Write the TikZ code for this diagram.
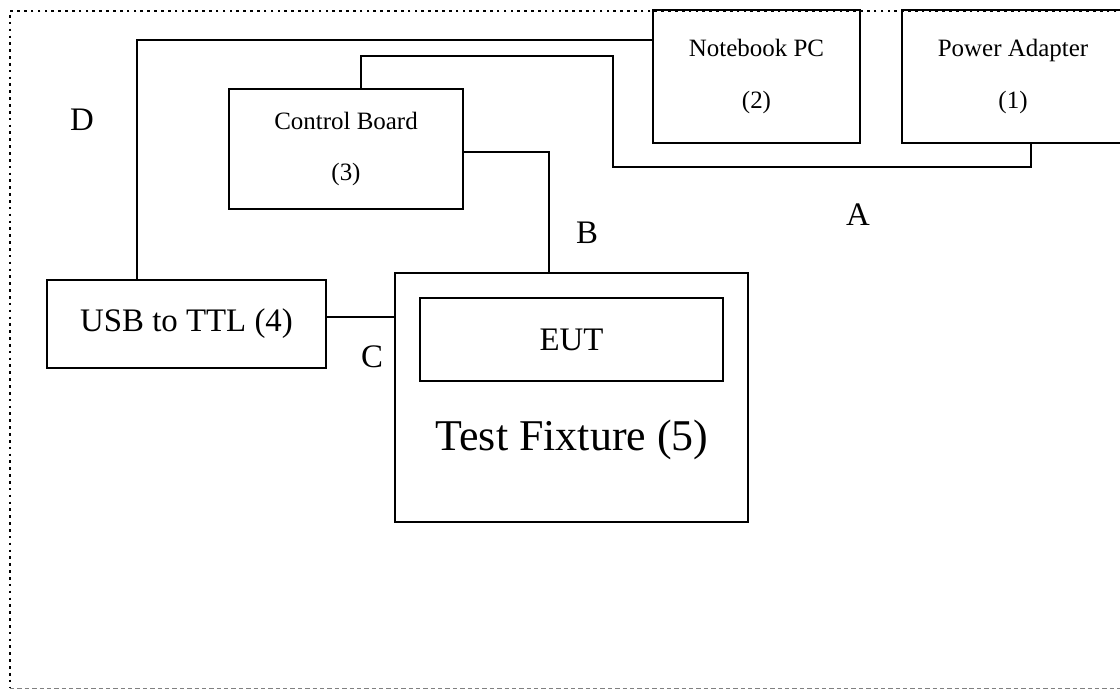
\documentclass[tikz,border=0pt]{standalone}
\usepackage{fontspec}
\setmainfont{Liberation Serif}
\usepackage{tikz}
\usetikzlibrary{positioning,calc}

\begin{document}
\begin{tikzpicture}[every node/.style={font=\fontsize{14.2pt}{17pt}\selectfont},
                    unit/.style={draw, line width=0.9pt, inner sep=0pt, align=center},
                    wire/.style={line width=0.9pt},
                    letter/.style={font=\fontsize{18.7pt}{22pt}\selectfont},
                    dotframe/.style={line width=1.5pt, dash pattern=on 1.5pt off 2.4pt},
                    dashframe/.style={line width=0.6pt, gray, dash pattern=on 2.5pt off 1.7pt}]
    \useasboundingbox (0,0) rectangle (22.4,13.8);
    \clip (0,0) rectangle (22.4,13.8);

    \draw[dotframe] (22.6,13.58) -- (0.2,13.58) -- (0.2,0.03);
    \draw[dashframe] (0.2,0.03) -- (22.6,0.03);

    \node (nb) [unit, minimum width=4.14cm, minimum height=2.66cm] at (15.13,12.27) {Notebook PC\\[12.5pt](2)};
    \node (pa) [unit, minimum width=4.44cm, minimum height=2.66cm] at (20.26,12.27) {Power Adapter\\[12.5pt](1)};
    \node (cb) [unit, minimum width=4.68cm, minimum height=2.4cm] at (6.92,10.82) {Control Board\\[12.5pt](3)};
    \node (usb) [unit, minimum width=5.58cm, minimum height=1.76cm, letter] at (3.73,7.32) {USB to TTL (4)};
    \node (fix) [unit, minimum width=7.06cm, minimum height=4.98cm] at (11.43,5.85) {};
    \node (eut) [unit, minimum width=6.06cm, minimum height=1.66cm, letter] at (11.43,7.01) {EUT};
    \node (fixlabel) [font=\fontsize{25pt}{30pt}\selectfont] at (11.44,5.0) {Test Fixture (5)};

    \draw[wire] ([yshift=0.73cm]nb.west) -| ([xshift=-0.99cm]usb.north);
    \draw[wire] ([xshift=0.3cm]cb.north) |- (12.26,12.68) -- (12.26,10.46) -| ([xshift=0.36cm]pa.south);
    \draw[wire] ([yshift=-0.06cm]cb.east) -| ([xshift=-0.45cm]fix.north);
    \draw[wire] ([yshift=0.14cm]usb.east) -- ([yshift=0.14cm]usb.east -| fix.west);

    \node (d) [letter] at (1.64,11.4) {D};
    \node (a) [letter] at (17.16,9.5) {A};
    \node (b) [letter] at (11.74,9.14) {B};
    \node (c) [letter] at (7.44,6.66) {C};
\end{tikzpicture}
\end{document}
